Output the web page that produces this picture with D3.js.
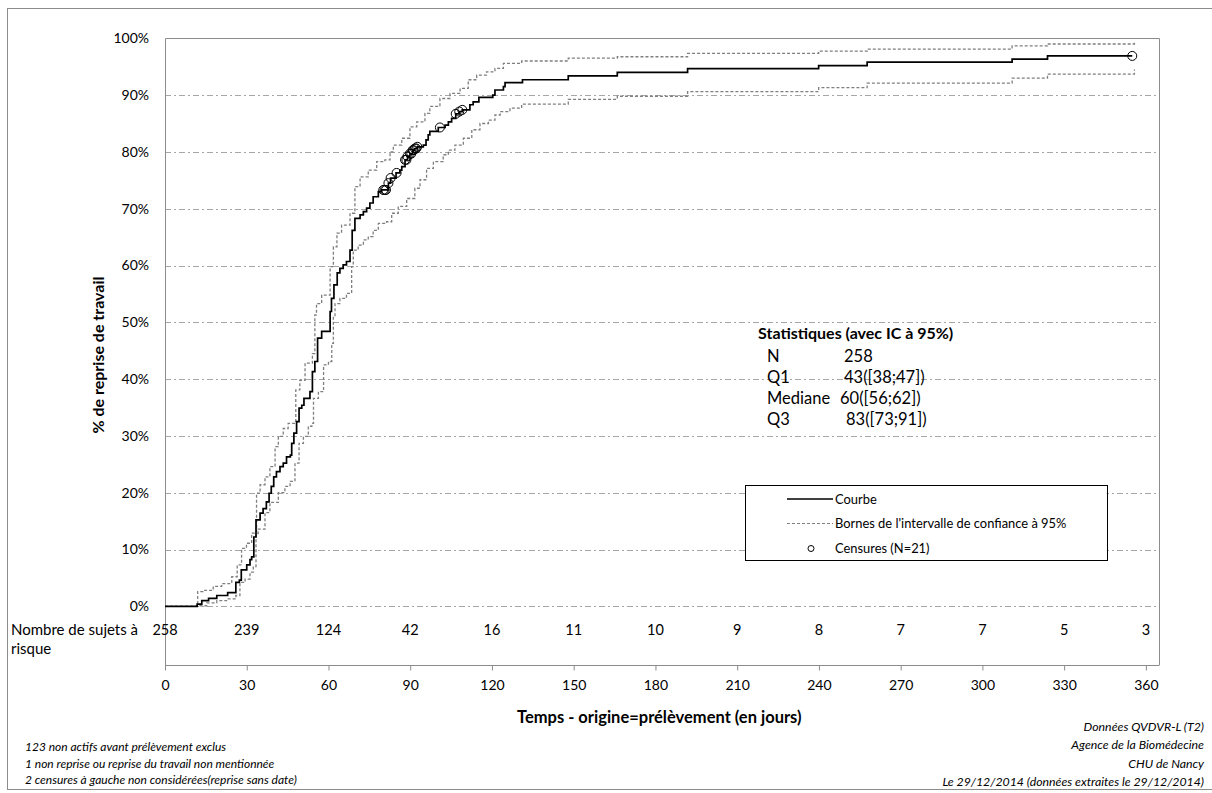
<!DOCTYPE html>
<html>
<head>
<meta charset="utf-8">
<script src="https://cdn.jsdelivr.net/npm/d3@7"></script>
<style>
  body { margin: 0; background: #fff; }
  svg { font-family: Lato, "Noto Sans", sans-serif; }
</style>
</head>
<body>
<svg id="chart" width="1212" height="793"></svg>
<script>
// courbe de Kaplan-Meier (jour, % de reprise)
const courbe = [
  [0, 0], [11.8, 0.4], [13.5, 1.0], [16, 1.4], [19, 1.9], [23, 2.4], [26, 4.2], [27.3, 4.6],
  [28, 6.4], [30, 7.3], [31.2, 8.2], [31.8, 8.7], [32.6, 12.2], [33.4, 15.2], [34.9, 16.4],
  [36, 17.2], [37.2, 18.4], [38.2, 19.9], [39, 21.1], [39.9, 22.8], [40.9, 23.7], [42.2, 24.6],
  [43.4, 25.2], [44.6, 26.3], [46, 26.6], [46.5, 28.7], [47.3, 30.5], [48.3, 32.5], [49.2, 34.9],
  [50.2, 35.4], [51, 36.6], [53.2, 37.8], [54.1, 41.3], [55, 43.1], [56, 47.2], [57.5, 48.4],
  [60.6, 51.9], [61.1, 54.2], [62, 56.6], [63.2, 58.7], [64.2, 59.5], [65.4, 60.1], [66.6, 60.7],
  [67.9, 62.7], [68.7, 66.2], [69.7, 68.3], [71.6, 68.9], [72.8, 69.5], [74, 70.1], [75.2, 71],
  [76.4, 72.1], [78.3, 73], [79.5, 73.3], [82, 74.5], [82.8, 75.4], [84.8, 76.3], [86.2, 76.8],
  [86.9, 77.4], [88.1, 78.6], [89, 79.2], [89.9, 79.7], [90.9, 80.3], [91.7, 80.6], [92.6, 80.9],
  [94.8, 81.2], [95.8, 82.1], [96.6, 83], [97.2, 83.6], [100.3, 84.3], [102.8, 84.7], [104, 85.3],
  [105.2, 85.9], [106.7, 86.7], [108, 87.1], [109.1, 87.4], [111.9, 88.3], [113.1, 88.8],
  [115.2, 89.6], [120.3, 90], [121.1, 90.9], [124.2, 91.5], [124.8, 92.2], [131.2, 92.7],
  [148, 93.4], [166, 94.0], [191.8, 94.65], [239.9, 95.2], [257.7, 95.8], [310.9, 96.35],
  [323.9, 96.9], [355, 96.9]
];

const borneSup = [
  [0, 0], [12, 2.6], [14, 2.8], [17.7, 3.5], [20.8, 4], [24.5, 5.2], [26.5, 7.3], [28.1, 10.2],
  [29.9, 11.1], [31.8, 12.9], [33.6, 19.9], [34.9, 21.4], [36.7, 22.8], [38.5, 24.6], [40.4, 28.1],
  [41.6, 29.9], [43.4, 31.3], [45.2, 32.2], [48, 38.1], [49.5, 39.8], [51.4, 42.8], [54.1, 44.5],
  [55, 51.3], [55.6, 53.3], [57.5, 54.8], [60.6, 59.8], [61.8, 63.3], [63.1, 65.7], [64.8, 67.1],
  [67.9, 69.2], [69.7, 73.9], [71.6, 75.6], [74.6, 76.8], [77.7, 78.3], [80.7, 78.6], [82.6, 80],
  [83.8, 81.2], [86.9, 82.4], [89.9, 84.4], [92.4, 85.3], [95.4, 86.8], [97.2, 88], [100.9, 89.4],
  [104.6, 90.3], [108.3, 91.2], [111.3, 92.7], [114.4, 93.5], [118, 94.1], [121.1, 94.7],
  [124.2, 95.6], [130.9, 96], [148, 96.5], [166, 96.75], [191.8, 97.35], [239.9, 97.75],
  [257.7, 98.1], [310.9, 98.65], [323.9, 99.0], [355.8, 99.5]
];

const borneInf = [
  [0, 0], [11.6, 0.1], [15.3, 0.6], [19, 1], [22.6, 1.3], [26, 1.9], [27.5, 4.2], [29.4, 4.8],
  [31.2, 6], [32.4, 7], [33.4, 12.8], [34.2, 13.6], [36.7, 16.5], [38.5, 18.3], [41.6, 20],
  [44, 21.1], [45.9, 22], [47.7, 25.2], [49.2, 28.7], [50.8, 29.9], [52.6, 31.7], [53.9, 32.2],
  [54.5, 36.6], [56.3, 37.8], [58.2, 42.5], [60, 43.1], [61.2, 46.3], [61.8, 51], [62.4, 53.3],
  [64.2, 54.2], [66.6, 55.1], [68.5, 59.8], [69.1, 62.7], [70.9, 63.6], [72.8, 64.5], [74.6, 65.1],
  [76.4, 66.2], [78.3, 67.4], [81.3, 67.7], [83.2, 69.2], [85.6, 70.4], [88.7, 71.8], [91.7, 73.6],
  [93.6, 75.1], [96, 77.1], [98.5, 78.3], [102.1, 79.5], [104, 80.3], [106.4, 81.2], [109.5, 82.4],
  [112.6, 83.9], [115.6, 85], [118.7, 85.6], [121.1, 86.5], [123, 87.1], [126.6, 87.7],
  [130.9, 88.4], [148, 89.25], [166, 89.8], [191.8, 90.6], [239.9, 91.3], [257.7, 92.1],
  [310.9, 93.0], [323.9, 93.7], [355.8, 94.5]
];

// jours des censures (N=21)
const censures = [80.1, 80.6, 81.1, 82, 82.8, 85, 88.1, 88.6, 89, 89.9, 90.4, 90.9, 91.2,
  91.7, 92.2, 92.6, 100.9, 106.7, 108, 109.1, 355];

// sujets a risque, un par graduation de 30 jours
const joursTicks = [0, 30, 60, 90, 120, 150, 180, 210, 240, 270, 300, 330, 360];
const sujetsRisque = [258, 239, 124, 42, 16, 11, 10, 9, 8, 7, 7, 5, 3];
const pctTicks = [0, 10, 20, 30, 40, 50, 60, 70, 80, 90, 100];

const stats = [
  ["N", "258"],
  ["Q1", "43([38;47])"],
  ["Mediane", "60([56;62])"],
  ["Q3", "83([73;91])"]
];

const notesGauche = [
  "123 non actifs avant prélèvement exclus",
  "1 non reprise ou reprise du travail non mentionnée",
  "2 censures à gauche non considérées(reprise sans date)"
];
const notesDroite = [
  "Données QVDVR-L (T2)",
  "Agence de la Biomédecine",
  "CHU de Nancy",
  "Le 29/12/2014 (données extraites le 29/12/2014)"
];

const svg = d3.select("#chart");

const plotLeft = 165, plotRight = 1159.5, plotTop = 38.3, plotZero = 606.3, plotBottom = 665;

const x = d3.scaleLinear().domain([0, 365]).range([plotLeft, plotRight]);
const y = d3.scaleLinear().domain([0, 100]).range([plotZero, plotTop]);

// cadre exterieur
svg.append("rect")
  .attr("x", 7.5).attr("y", 8.5).attr("width", 1210).attr("height", 781)
  .attr("fill", "none").attr("stroke", "#8c8c8c");

// grille en tirets-points
svg.append("g").selectAll("line")
  .data(pctTicks.filter(d => d < 100))
  .enter().append("line")
  .attr("x1", plotLeft).attr("x2", plotRight)
  .attr("y1", d => Math.round(y(d)) + 0.5).attr("y2", d => Math.round(y(d)) + 0.5)
  .attr("stroke", "#a6a6a6")
  .attr("stroke-dasharray", "6,3,2,3");

// cadre de la zone de trace
svg.append("path")
  .attr("d", `M${plotLeft + 0.5},${plotBottom}V${Math.round(plotTop) + 0.5}H${plotRight}V${plotBottom}`)
  .attr("fill", "none").attr("stroke", "#8c8c8c");

// axe des y (etiquettes)
const yAxis = svg.append("g")
  .attr("transform", `translate(${plotLeft},0)`)
  .call(d3.axisLeft(y).tickValues(pctTicks).tickFormat(d => d + "%").tickSize(0).tickPadding(16));
yAxis.select(".domain").remove();
yAxis.selectAll("text").attr("font-size", 14).attr("font-family", "Lato").attr("fill", "#000");

// axe des x
const xAxis = svg.append("g")
  .attr("transform", `translate(0,${plotBottom + 0.5})`)
  .call(d3.axisBottom(x).tickValues(joursTicks).tickSize(5).tickPadding(10));
xAxis.select(".domain").attr("d", `M${plotLeft},0H${plotRight}`).attr("stroke", "#8c8c8c");
xAxis.selectAll(".tick line").attr("stroke", "#8c8c8c");
xAxis.selectAll("text").attr("font-size", 14).attr("font-family", "Lato").attr("fill", "#000");

// sujets a risque
svg.append("g").selectAll("text")
  .data(joursTicks)
  .enter().append("text")
  .attr("x", d => x(d))
  .attr("y", 635)
  .attr("text-anchor", "middle")
  .attr("font-size", 14.5)
  .text((d, i) => sujetsRisque[i]);

svg.append("text").attr("x", 11).attr("y", 635).attr("font-size", 15).text("Nombre de sujets à");
svg.append("text").attr("x", 11).attr("y", 654).attr("font-size", 15).text("risque");

// courbes
const ligne = d3.line()
  .x(d => x(d[0]))
  .y(d => y(d[1]))
  .curve(d3.curveStepAfter);

svg.append("path").datum(borneSup)
  .attr("d", ligne).attr("fill", "none")
  .attr("stroke", "#7f7f7f").attr("stroke-width", 1.3).attr("stroke-dasharray", "3,2");
svg.append("path").datum(borneInf)
  .attr("d", ligne).attr("fill", "none")
  .attr("stroke", "#7f7f7f").attr("stroke-width", 1.3).attr("stroke-dasharray", "3,2");
svg.append("path").datum(courbe)
  .attr("d", ligne).attr("fill", "none")
  .attr("stroke", "#000").attr("stroke-width", 1.7);

// censures posees sur la courbe
const bisect = d3.bisector(d => d[0]).right;
const valeurA = j => courbe[Math.max(0, bisect(courbe, j) - 1)][1];
svg.append("g").selectAll("circle")
  .data(censures)
  .enter().append("circle")
  .attr("cx", d => x(d))
  .attr("cy", d => y(valeurA(d)))
  .attr("r", 4.5)
  .attr("fill", "none").attr("stroke", "#000").attr("stroke-width", 1);

// titres des axes
svg.append("text")
  .attr("transform", `translate(104,355) rotate(-90)`)
  .attr("text-anchor", "middle")
  .attr("font-size", 16).attr("font-weight", "bold")
  .text("% de reprise de travail");

svg.append("text")
  .attr("x", (plotLeft + plotRight) / 2 - 3).attr("y", 723)
  .attr("text-anchor", "middle")
  .attr("font-size", 16.5).attr("font-weight", "bold")
  .text("Temps - origine=prélèvement (en jours)");

// bloc statistiques
svg.append("text")
  .attr("x", 758).attr("y", 339)
  .attr("font-size", 16).attr("font-weight", "bold")
  .text("Statistiques (avec IC à 95%)");
const statDx = [844, 844, 840, 846];
stats.forEach((s, i) => {
  const yy = 362 + i * 21;
  svg.append("text").attr("x", 767).attr("y", yy).attr("font-size", 16.5).text(s[0]);
  svg.append("text").attr("x", statDx[i]).attr("y", yy).attr("font-size", 16.5).text(s[1]);
});

// legende
const lg = svg.append("g");
lg.append("rect")
  .attr("x", 745.5).attr("y", 485.5).attr("width", 362).attr("height", 75)
  .attr("fill", "#fff").attr("stroke", "#000");
lg.append("line").attr("x1", 787).attr("x2", 833).attr("y1", 499).attr("y2", 499)
  .attr("stroke", "#000").attr("stroke-width", 1.7);
lg.append("line").attr("x1", 787).attr("x2", 833).attr("y1", 523.5).attr("y2", 523.5)
  .attr("stroke", "#7f7f7f").attr("stroke-width", 1.2).attr("stroke-dasharray", "3,2");
lg.append("circle").attr("cx", 811).attr("cy", 548.5).attr("r", 3)
  .attr("fill", "none").attr("stroke", "#000");
const lgTextes = ["Courbe", "Bornes de l'intervalle de confiance à 95%", "Censures (N=21)"];
lg.selectAll("text.lg")
  .data(lgTextes)
  .enter().append("text")
  .attr("class", "lg")
  .attr("x", 835)
  .attr("y", (d, i) => 503.5 + i * 24.5)
  .attr("font-size", 12.9)
  .text(d => d);

// notes
svg.append("g").selectAll("text")
  .data(notesGauche)
  .enter().append("text")
  .attr("x", 25)
  .attr("y", (d, i) => 751 + i * 16.5)
  .attr("font-size", 12).attr("font-style", "italic")
  .text(d => d);

svg.append("g").selectAll("text")
  .data(notesDroite)
  .enter().append("text")
  .attr("x", 1204)
  .attr("y", (d, i) => 731 + i * 18.3)
  .attr("text-anchor", "end")
  .attr("font-size", 12.3).attr("font-style", "italic")
  .text(d => d);
</script>
</body>
</html>
